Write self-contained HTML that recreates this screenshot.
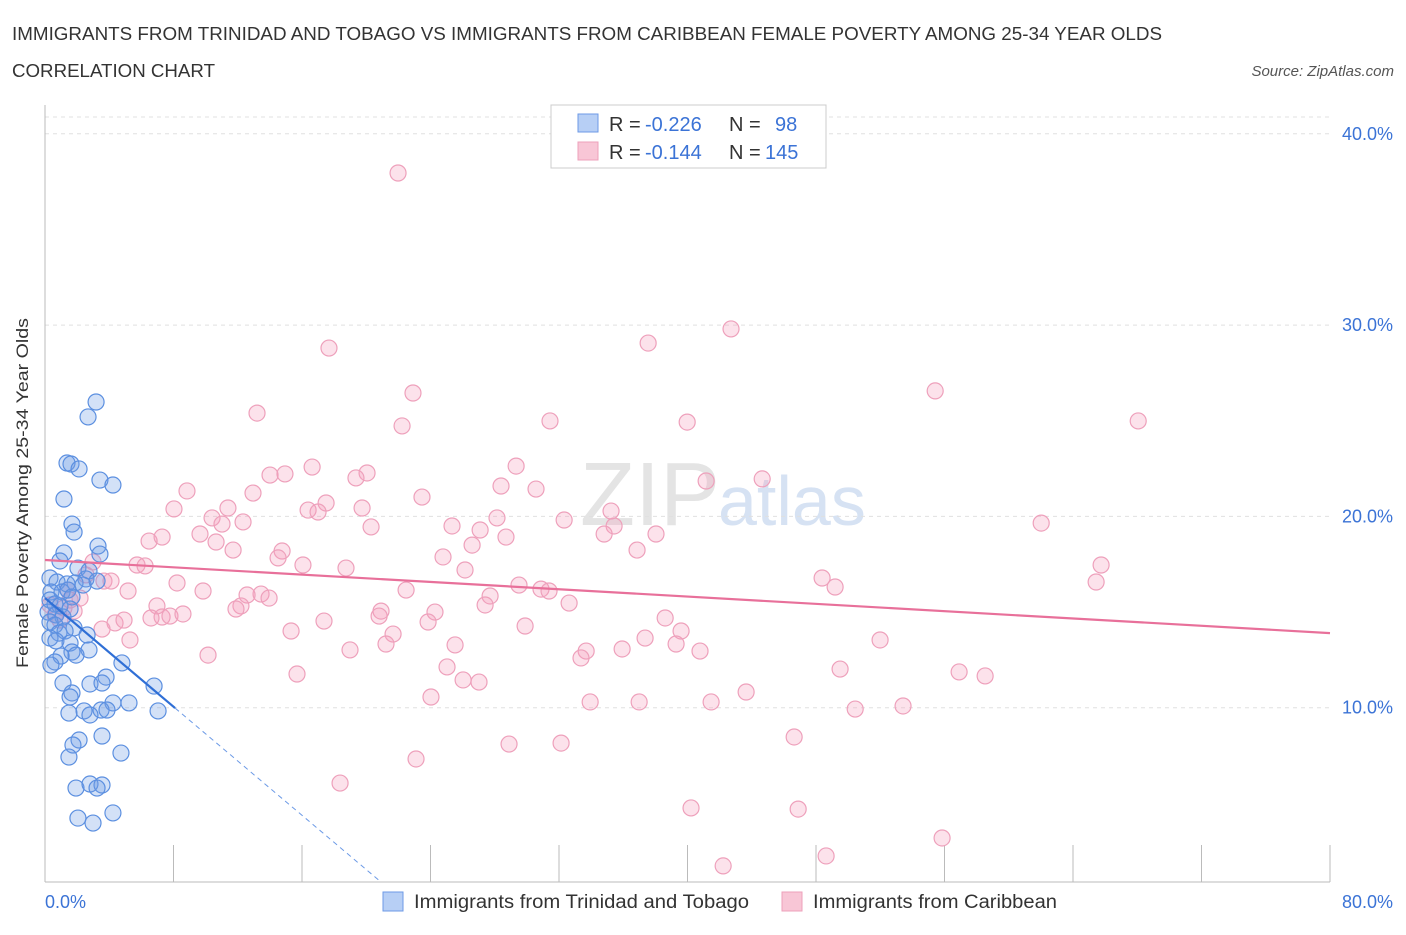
<!DOCTYPE html>
<html><head><meta charset="utf-8"><style>
body{margin:0;background:#fff;font-family:"Liberation Sans",sans-serif;}
svg text{font-family:"Liberation Sans",sans-serif;}
</style></head><body>
<svg id="chart" width="1406" height="930" viewBox="0 0 1406 930">
<text x="12" y="40" font-size="18" fill="#333" textLength="1150" lengthAdjust="spacingAndGlyphs">IMMIGRANTS FROM TRINIDAD AND TOBAGO VS IMMIGRANTS FROM CARIBBEAN FEMALE POVERTY AMONG 25-34 YEAR OLDS</text>
<text x="12" y="77" font-size="18" fill="#333" textLength="203" lengthAdjust="spacingAndGlyphs">CORRELATION CHART</text>
<text x="1394" y="76" font-size="15" fill="#555" font-style="italic" text-anchor="end">Source: ZipAtlas.com</text>
<text x="720" y="525" font-size="90" fill="#e4e4e4" text-anchor="end" font-family="Liberation Serif">ZIP</text>
<text x="718" y="525" font-size="70" fill="#d6e2f3">atlas</text>
<g id="grid"></g>
<g id="ticks"></g>
<g id="pts"></g>
<g id="trend"></g>
<text x="28" y="493" font-size="17" fill="#333" text-anchor="middle" textLength="350" lengthAdjust="spacingAndGlyphs" transform="rotate(-90 28 493)">Female Poverty Among 25-34 Year Olds</text>
<g>
<rect x="551" y="105" width="275" height="63" fill="#fff" stroke="#ccc"/>
<rect x="578" y="114" width="20" height="18" fill="#b7cff5" stroke="#6c9ae6"/>
<rect x="578" y="142" width="20" height="18" fill="#f8c6d6" stroke="#eea0bb"/>
<text x="609" y="131" font-size="20" fill="#333">R =</text>
<text x="645" y="131" font-size="20" fill="#3b73d6">-0.226</text>
<text x="729" y="131" font-size="20" fill="#333">N =</text>
<text x="775" y="131" font-size="20" fill="#3b73d6">98</text>
<text x="609" y="159" font-size="20" fill="#333">R =</text>
<text x="645" y="159" font-size="20" fill="#3b73d6">-0.144</text>
<text x="729" y="159" font-size="20" fill="#333">N =</text>
<text x="765" y="159" font-size="20" fill="#3b73d6">145</text>
</g>
<g>
<rect x="383" y="892" width="20" height="19" fill="#b7cff5" stroke="#6c9ae6"/>
<text x="414" y="908" font-size="19" fill="#333" textLength="335" lengthAdjust="spacingAndGlyphs">Immigrants from Trinidad and Tobago</text>
<rect x="782" y="892" width="20" height="19" fill="#f8c6d6" stroke="#eea0bb"/>
<text x="813" y="908" font-size="19" fill="#333" textLength="244" lengthAdjust="spacingAndGlyphs">Immigrants from Caribbean</text>
</g>
</svg>
<script>
const yTicks=[10,20,30,40];
const yTickLabels=["10.0%","20.0%","30.0%","40.0%"];
const xTicks=[0,8,16,24,32,40,48,56,64,72,80];
const xEndLabels=["0.0%","80.0%"];
const blueX=[3.18,2.68,1.37,1.62,2.12,3.42,4.23,1.18,1.68,1.81,3.3,3.42,1.18,0.93,2.05,2.74,2.55,0.31,0.75,1.37,1.87,2.37,3.24,0.37,1.06,1.43,1.68,0.31,0.62,0.93,0.19,0.68,1.12,1.56,0.31,0.62,1.81,2.62,0.87,1.25,0.31,0.68,1.56,2.74,1.68,1.93,1.0,0.62,4.79,0.37,3.8,2.8,3.55,1.12,6.79,1.68,1.56,4.23,5.23,2.43,3.49,3.86,7.04,1.49,2.8,3.55,2.12,1.74,4.73,1.49,1.93,2.8,3.55,3.24,2.05,2.99,4.23];
const blueY=[25.98,25.2,22.79,22.74,22.48,21.9,21.64,20.91,19.6,19.18,18.45,18.03,18.09,17.67,17.3,17.15,16.73,16.78,16.57,16.47,16.52,16.41,16.62,16.05,16.05,16.15,15.79,15.63,15.42,15.32,15.0,14.85,14.74,15.16,14.48,14.32,14.17,13.8,13.9,14.01,13.64,13.49,13.38,13.02,12.91,12.75,12.7,12.39,12.34,12.23,11.6,11.24,11.29,11.29,11.13,10.77,10.56,10.25,10.25,9.83,9.88,9.88,9.83,9.72,9.62,8.52,8.31,8.05,7.63,7.42,5.8,6.01,5.96,5.8,4.23,3.97,4.5];
const pinkX=[21.98,42.71,37.55,17.68,22.91,55.42,13.2,22.23,31.44,39.98,68.06,16.63,29.33,14.01,14.94,20.05,19.36,41.16,44.65,8.84,28.39,30.57,23.47,12.95,17.5,16.38,17.0,19.74,11.39,10.4,9.65,11.02,8.03,12.33,32.32,35.24,28.14,25.34,27.09,62.02,35.43,34.81,38.04,28.7,20.3,6.48,7.29,10.65,11.71,26.59,36.86,24.78,14.76,14.51,16.06,18.74,26.15,65.75,5.73,6.23,2.99,2.55,3.67,4.11,48.38,49.19,65.44,8.22,9.84,5.17,27.71,29.51,30.88,31.38,22.48,13.45,12.58,13.95,12.2,20.92,24.28,27.4,32.63,6.97,11.89,7.29,6.6,7.78,8.59,1.18,1.81,4.36,4.92,20.8,38.61,23.85,17.37,29.89,15.32,39.6,21.67,3.55,5.29,37.36,39.29,51.99,18.99,21.23,25.53,35.93,33.69,33.37,40.78,10.15,25.03,49.5,56.91,58.53,15.69,26.03,27.02,43.65,24.03,33.94,36.99,41.47,50.44,53.42,46.64,28.89,32.13,23.1,18.37,40.22,46.89,55.85,42.22,48.63,0.93,1.56,0.62,2.18,1.43,0.31];
const pinkY=[37.95,29.8,29.06,28.8,26.45,26.56,25.4,24.73,24.99,24.93,24.99,22.58,22.63,22.16,22.22,22.27,22.01,21.85,21.96,21.33,21.59,21.43,21.01,21.22,20.7,20.33,20.23,20.44,20.44,19.92,19.08,19.6,20.39,19.71,19.81,20.28,19.92,19.5,19.29,19.65,19.5,19.08,19.08,18.92,19.45,18.71,18.92,18.66,18.24,18.5,18.24,17.88,18.19,17.83,17.46,17.3,17.2,17.46,17.46,17.41,17.62,16.94,16.62,16.62,16.78,16.31,16.57,16.52,16.1,16.1,15.84,16.41,16.2,16.1,16.15,15.94,15.89,15.73,15.32,15.05,15.0,15.37,15.47,15.32,15.16,14.74,14.69,14.79,14.9,15.21,15.05,14.43,14.58,14.79,14.69,14.48,14.53,14.27,14.01,14.01,13.85,14.11,13.54,13.64,13.33,13.54,13.02,13.33,13.28,13.07,12.96,12.6,12.96,12.75,12.13,12.02,11.87,11.66,11.76,11.45,11.34,10.82,10.56,10.3,10.3,10.3,9.93,10.09,8.47,8.1,8.15,7.32,6.06,4.76,4.7,3.19,1.73,2.25,14.58,15.63,14.85,15.73,16.15,15.37];
const blueTrendX=[0,8.1,20.9];
const blueTrendY=[15.73,9.98,0.9];
const pinkTrendX=[0,80];
const pinkTrendY=[17.72,13.9];

const NS="http://www.w3.org/2000/svg";
const X=v=>45+v*16.0625;
const Y=v=>899-v*19.13;
function mk(tag,attrs,parent){const e=document.createElementNS(NS,tag);for(const k in attrs)e.setAttribute(k,attrs[k]);document.getElementById(parent).appendChild(e);return e;}
mk('line',{x1:45,x2:1330,y1:117,y2:117,stroke:'#e0e0e0','stroke-dasharray':'4 4'},'grid');
yTicks.forEach((t,i)=>{
  const g=mk('line',{x1:45,x2:1330,y1:Y(t),y2:Y(t),stroke:'#e0e0e0','stroke-dasharray':'4 4'},'grid');
  
  
  const tx=mk('text',{x:1393,y:Y(t)+6,'font-size':18,fill:'#3b73d6','text-anchor':'end'},'ticks');
  tx.textContent=yTickLabels[i];
  
  
});
const ax=mk('line',{x1:45,x2:1330,y1:882,y2:882,stroke:'#bbb'},'ticks');


const ay=mk('line',{x1:45,x2:45,y1:105,y2:882,stroke:'#bbb'},'ticks');


xTicks.forEach(t=>{
  const l=mk('line',{x1:X(t),x2:X(t),y1:845,y2:882,stroke:'#bbb'},'ticks');
  
  
});
const xl0=mk('text',{x:45,y:908,'font-size':18,fill:'#3b73d6'},'ticks');xl0.textContent=xEndLabels[0];


const xl1=mk('text',{x:1393,y:908,'font-size':18,fill:'#3b73d6','text-anchor':'end'},'ticks');xl1.textContent=xEndLabels[1];


pinkX.forEach((v,i)=>{
  const c=mk('circle',{cx:X(v),cy:Y(pinkY[i]),r:8,fill:'rgba(244,160,190,0.3)',stroke:'#eea0bb','stroke-width':1.2},'pts');
  
  
});
blueX.forEach((v,i)=>{
  const c=mk('circle',{cx:X(v),cy:Y(blueY[i]),r:8,fill:'rgba(110,155,230,0.3)',stroke:'#5b8fe0','stroke-width':1.2},'pts');
  
  
});
const pt=mk('line',{x1:X(pinkTrendX[0]),y1:Y(pinkTrendY[0]),x2:X(pinkTrendX[1]),y2:Y(pinkTrendY[1]),stroke:'#e8709a','stroke-width':2.2},'trend');


const bt=mk('line',{x1:X(blueTrendX[0]),y1:Y(blueTrendY[0]),x2:X(blueTrendX[1]),y2:Y(blueTrendY[1]),stroke:'#2f6fd6','stroke-width':2.2},'trend');


const bd=mk('line',{x1:X(blueTrendX[1]),y1:Y(blueTrendY[1]),x2:X(blueTrendX[2]),y2:Y(blueTrendY[2]),stroke:'#6c9ae6','stroke-width':1,'stroke-dasharray':'5 4'},'trend');


</script>
</body></html>
